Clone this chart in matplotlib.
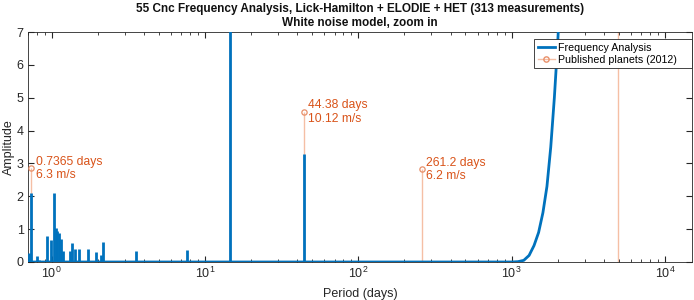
import matplotlib
matplotlib.use("Agg")
import matplotlib.pyplot as plt
from matplotlib.lines import Line2D

plt.rcParams['font.family'] = ['Liberation Sans', 'DejaVu Sans']

# periodogram spikes (period in days, amplitude)
spike_period = [0.708, 0.7365, 0.798, 0.83, 0.928, 0.995, 1.03, 1.062, 1.085, 1.11, 1.145,
                1.19, 1.31, 1.35, 1.41, 1.50, 1.716, 1.935, 2.085, 2.148, 3.53, 7.58,
                14.65, 44.38]
spike_amp = [0.26, 2.09, 0.17, 0.05, 0.78, 0.66, 2.09, 1.02, 0.95, 0.88, 0.69,
             0.34, 0.34, 0.59, 0.41, 0.40, 0.41, 0.30, 0.20, 0.61, 0.33, 0.36,
             30.0, 3.28]

# long-period tail of the periodogram
curve_period = [0.7, 1000, 1100, 1200, 1300, 1400, 1500, 1600, 1700, 1800, 1900, 2000, 2100, 2200]
curve_amp = [0.0, 0.0, 0.01, 0.05, 0.2, 0.5, 0.9, 1.5, 2.3, 3.5, 5.0, 6.7, 8.8, 12.0]

# published planets (2012)
planet_period = [0.7365, 14.65, 44.38, 261.2, 4909]
planet_amp = [2.85, 32.0, 4.56, 2.82, 17.0]
planet_k = [6.3, 71.3, 10.12, 6.2, 38.0]
labelled = [0, 2, 3]

blue = '#0072BD'
orange = '#D95319'
stem_col = '#F5BFA5'
axis_col = '#262626'

fig = plt.figure(figsize=(6.94, 3.0), dpi=100)
ax = fig.add_axes([0.0403, 0.1267, 0.9567, 0.7666])

ax.vlines(planet_period, 0, planet_amp, color=stem_col, lw=1.0, zorder=1)
ax.plot(planet_period, planet_amp, 'o', ms=3.8, mfc='none', mec='#E8906A', mew=0.9,
        zorder=4)

ax.plot(curve_period, curve_amp, color=blue, lw=2, zorder=3)
ax.vlines(spike_period, 0, spike_amp, color=blue, lw=2, zorder=3)

for i in labelled:
    ax.annotate('%g days\n%g m/s' % (planet_period[i], planet_k[i]),
                xy=(planet_period[i], planet_amp[i]), xytext=(3, 0),
                textcoords='offset points', va='center', ha='left',
                color=orange, fontsize=8.7, linespacing=1.15, zorder=5)

ax.set_xscale('log')
ax.set_xlim(0.7, 1.5e4)
ax.set_ylim(0, 7)
ax.set_yticks(range(8))
ax.tick_params(which='both', direction='in', top=True, right=True, colors=axis_col,
               labelsize=9, pad=3)
ax.tick_params(which='major', length=4)
ax.tick_params(which='minor', length=2)
for s in ax.spines.values():
    s.set_color(axis_col)
    s.set_linewidth(0.6)

ax.set_xlabel('Period (days)', fontsize=9, color=axis_col, labelpad=5)
ax.set_ylabel('Amplitude', fontsize=9, color=axis_col, labelpad=1)
ax.set_title('55 Cnc Frequency Analysis, Lick-Hamilton + ELODIE + HET (313 measurements)\n'
             'White noise model, zoom in', fontsize=8.5, fontweight='bold', color='#111111',
             pad=4, linespacing=1.25)

handles = [Line2D([], [], color=blue, lw=2),
           Line2D([], [], color=stem_col, lw=1, marker='o', ms=3.8, mfc='none', mec='#E8906A')]
leg = ax.legend(handles, ['Frequency Analysis', 'Published planets (2012)    '],
                loc='upper right', bbox_to_anchor=(1.0, 0.968), fontsize=7.7,
                fancybox=False, framealpha=1, edgecolor=axis_col, handlelength=1.6,
                handletextpad=0.3, borderpad=0.3, labelspacing=0.2, borderaxespad=0.0,
                numpoints=1)
leg.get_frame().set_linewidth(0.6)

fig.savefig('out.png', dpi=100)
